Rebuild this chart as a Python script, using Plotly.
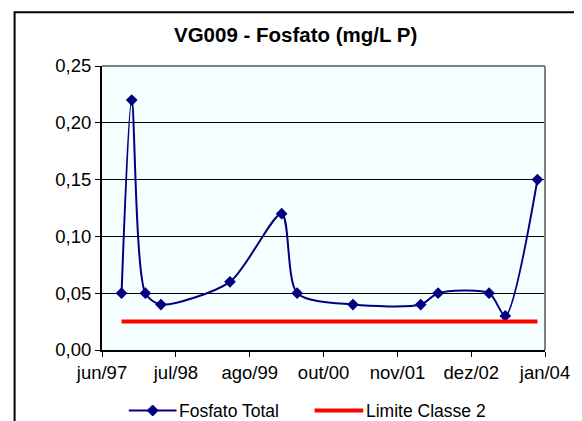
import plotly.graph_objects as go

dates = ["1997-10-03", "1997-11-27", "1998-02-09", "1998-05-04", "1999-05-13",
         "2000-02-17", "2000-05-11", "2001-03-09", "2002-03-11", "2002-06-13",
         "2003-03-16", "2003-06-12", "2003-12-03"]
fosfato = [0.05, 0.22, 0.05, 0.04, 0.06, 0.12, 0.05, 0.04, 0.04, 0.05, 0.05, 0.03, 0.15]
limite_dates = [dates[0], dates[-1]]
limite = [0.025, 0.025]
tick_dates = ["1997-06-19", "1998-07-24", "1999-08-28", "2000-10-01",
              "2001-11-05", "2002-12-10", "2004-01-13"]
tick_labels = ["jun/97", "jul/98", "ago/99", "out/00", "nov/01", "dez/02", "jan/04"]
series_names = ["Fosfato Total", "Limite Classe 2"]
series_colors = ["#000080", "#FF0000"]

FONT = "Arial, Liberation Sans, sans-serif"

# page body has an 8px margin, so the figure is 8px smaller and everything shifted
W, H = 574, 413
L, R, T, B = 94, 34, 58, 71
PW, PH = W - L - R, H - T - B


def px(xf):  # figure pixel x -> paper
    return (xf - L) / PW


def py(yf):  # figure pixel y -> paper
    return ((H - B) - yf) / PH


fig = go.Figure()
fig.add_trace(go.Scatter(
    x=dates, y=fosfato, name=series_names[0], mode="lines+markers",
    line=dict(color=series_colors[0], width=2, shape="spline", smoothing=0.75),
    marker=dict(symbol="diamond", size=9, color=series_colors[0]),
))
fig.add_trace(go.Scatter(
    x=limite_dates, y=limite, name=series_names[1], mode="lines",
    line=dict(color=series_colors[1], width=4),
))

# manual legend (the reference's legend sits partly below the picture edge)
LEG_Y = 402.5
legend_shapes = [
    dict(type="line", xref="paper", yref="paper", x0=px(121), x1=px(169),
         y0=py(LEG_Y), y1=py(LEG_Y), line=dict(color=series_colors[0], width=2)),
    dict(type="path", xref="paper", yref="paper", xsizemode="pixel", ysizemode="pixel",
         xanchor=px(145), yanchor=py(LEG_Y), path="M -5.5 0 L 0 5.5 L 5.5 0 L 0 -5.5 Z",
         fillcolor=series_colors[0], line=dict(color=series_colors[0], width=1)),
    dict(type="line", xref="paper", yref="paper", x0=px(308), x1=px(357),
         y0=py(LEG_Y), y1=py(LEG_Y), line=dict(color=series_colors[1], width=4)),
]
legend_annotations = [
    dict(text=series_names[0], xref="paper", yref="paper", x=px(171), y=py(LEG_Y),
         xanchor="left", yanchor="middle", showarrow=False, borderpad=0,
         font=dict(size=17.5, family=FONT, color="black")),
    dict(text=series_names[1], xref="paper", yref="paper", x=px(359), y=py(LEG_Y),
         xanchor="left", yanchor="middle", showarrow=False, borderpad=0,
         font=dict(size=17.5, family=FONT, color="black")),
]

fig.update_layout(
    width=W, height=H,
    margin=dict(l=L, r=R, t=T, b=B),
    paper_bgcolor="white", plot_bgcolor="#F5FFFF",
    separators=", ",
    font=dict(family=FONT, color="black", size=18.5),
    title=dict(text="<b>VG009 - Fosfato (mg/L P)</b>", x=px(289), xref="paper",
               xanchor="center", y=1 - 27 / H, yref="container", yanchor="middle",
               font=dict(size=20.5, family=FONT, color="black")),
    showlegend=False,
    xaxis=dict(type="date", range=[tick_dates[0], tick_dates[-1]],
               tickmode="array", tickvals=tick_dates, ticktext=tick_labels,
               ticks="outside", ticklen=5, tickcolor="black", tickwidth=1,
               showline=True, linecolor="black", linewidth=2,
               showgrid=False, zeroline=False, tickfont=dict(size=18.5)),
    yaxis=dict(range=[0, 0.25], dtick=0.05, tickformat=".2f",
               ticks="outside", ticklen=5, tickcolor="black", tickwidth=1,
               showline=True, linecolor="black", linewidth=2,
               showgrid=True, gridcolor="black", gridwidth=1,
               zeroline=False, tickfont=dict(size=18.5)),
    annotations=legend_annotations,
    shapes=[
        dict(type="line", xref="paper", yref="paper", x0=0, x1=1, y0=1, y1=1,
             line=dict(color="#808080", width=2)),
        dict(type="line", xref="paper", yref="paper", x0=1, x1=1, y0=0, y1=1,
             line=dict(color="#808080", width=2)),
        dict(type="rect", xref="paper", yref="paper",
             x0=px(6), x1=px(571), y0=py(440), y1=py(4.3),
             line=dict(color="black", width=2)),
    ] + legend_shapes,
)

fig.write_html("out.html")
